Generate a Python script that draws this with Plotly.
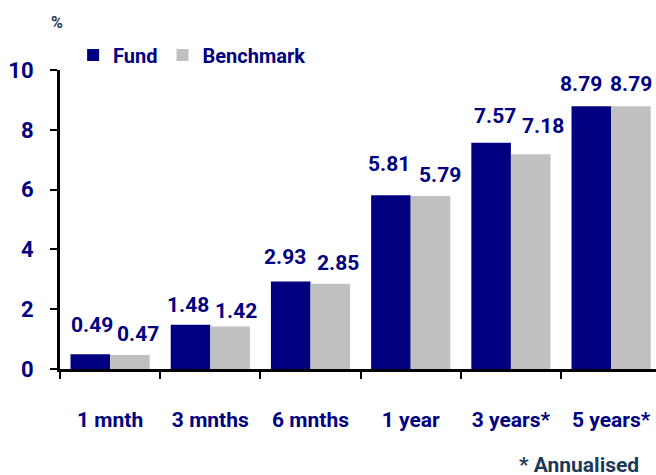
import plotly.graph_objects as go

categories = ["1 mnth", "3 mnths", "6 mnths", "1 year", "3 years*", "5 years*"]
fund = [0.49, 1.48, 2.93, 5.81, 7.57, 8.79]
benchmark = [0.47, 1.42, 2.85, 5.79, 7.18, 8.79]
y_ticks = [0, 2, 4, 6, 8, 10]

# label placement offsets in pixels (xshift, yshift above the bar top)
fund_label_dx = [1.5, -3, -6, -1.5, 3.5, -10]
fund_label_dy = [28, 19, 23, 30, 26, 21]
bench_label_dx = [8, 6, 8, 9, 12, 0]
bench_label_dy = [20, 15, 20, 20, 27, 21]

NAVY = "#000080"
GREY = "#c0c0c0"
NOTE = "#1c3a57"
FONT = "Roboto, Liberation Sans, sans-serif"
BARGAP = 0.21
HALF = (1 - BARGAP) / 4  # offset of each bar centre from category centre

fig = go.Figure()
fig.add_bar(x=categories, y=fund, name="Fund", marker_color=NAVY,
            marker_line_width=0)
fig.add_bar(x=categories, y=benchmark, name="Benchmark", marker_color=GREY,
            marker_line_width=0)

annotations = []
for i, (v, dx, dy) in enumerate(zip(fund, fund_label_dx, fund_label_dy)):
    annotations.append(dict(x=i - HALF, y=v, xref="x", yref="y", text=f"{v:.2f}",
                            showarrow=False, xanchor="center", yanchor="middle",
                            xshift=dx, yshift=dy + 1,
                            font=dict(size=21, color=NAVY, family=FONT, weight="bold")))
for i, (v, dx, dy) in enumerate(zip(benchmark, bench_label_dx, bench_label_dy)):
    annotations.append(dict(x=i + HALF, y=v, xref="x", yref="y", text=f"{v:.2f}",
                            showarrow=False, xanchor="center", yanchor="middle",
                            xshift=dx, yshift=dy + 1,
                            font=dict(size=21, color=NAVY, family=FONT, weight="bold")))
annotations += [
    dict(text="%", xref="paper", yref="paper", x=-0.005, y=1.158, xanchor="center",
         yanchor="middle", showarrow=False,
         font=dict(size=16, color=NOTE, family=FONT, weight="bold")),
    dict(text="* Annualised", xref="paper", yref="paper", x=0.975, y=-0.274,
         xanchor="right", yanchor="top", showarrow=False,
         font=dict(size=21, color=NOTE, family=FONT, weight="bold")),
]

fig.update_layout(
    width=656, height=475,
    margin=dict(l=60, r=0, t=70, b=106),
    paper_bgcolor="white", plot_bgcolor="white",
    barmode="group", bargap=BARGAP, bargroupgap=0,
    font=dict(family=FONT, color=NAVY, size=21, weight="bold"),
    showlegend=True,
    legend=dict(orientation="h", x=0.022, xanchor="left", y=1.05, yanchor="middle",
                font=dict(size=20, color=NAVY, family=FONT, weight="bold"),
                bgcolor="rgba(0,0,0,0)", itemwidth=30, traceorder="normal"),
    xaxis=dict(range=[-0.5, 5.448], showline=True, linecolor="black", linewidth=3,
               ticks="outside", tickson="boundaries", ticklen=7, tickwidth=2,
               tickcolor="black", showgrid=False, ticklabelstandoff=30,
               tickfont=dict(size=21, color=NAVY, family=FONT, weight="bold")),
    yaxis=dict(range=[0, 10], tickvals=y_ticks, showline=True, linecolor="black",
               linewidth=3, ticks="outside", ticklen=7, tickwidth=2, tickcolor="black",
               showgrid=False, zeroline=False, ticklabelstandoff=12,
               tickfont=dict(size=22, color=NAVY, family=FONT, weight="bold")),
    annotations=annotations,
)

fig.write_html("out.html", config={"displayModeBar": False},
               post_script="document.body.style.margin='0';")
